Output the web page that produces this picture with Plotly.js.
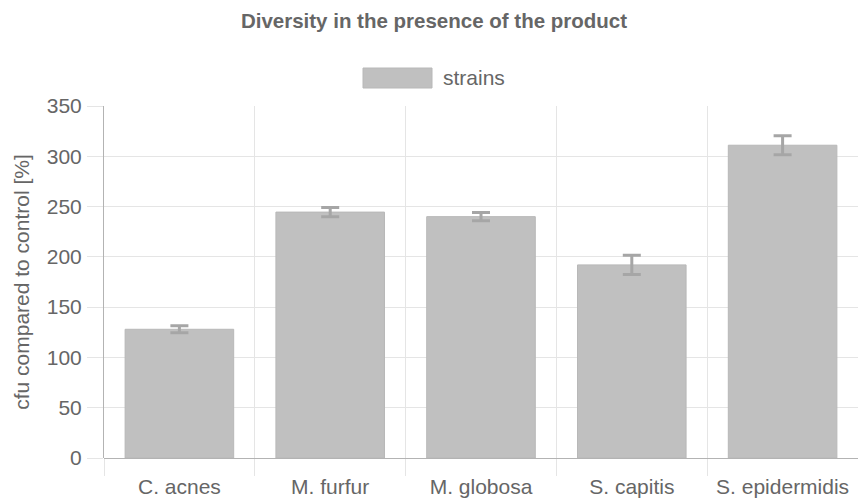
<!DOCTYPE html>
<html><head><meta charset="utf-8">
<script src="https://cdn.plot.ly/plotly-3.0.1.min.js"></script>
<style>html,body{margin:0;padding:0;background:#fff}#c{width:858px;height:500px}</style>
</head><body><div id="c"></div>
<script>
const categories = ["C. acnes", "M. furfur", "M. globosa", "S. capitis", "S. epidermidis"];
const values = [128, 244.5, 240, 192, 311];
const errors = [3.5, 4.5, 4, 9.5, 9.5];
const seriesName = "strains";
const yTicks = [0, 50, 100, 150, 200, 250, 300, 350];

const trace = {
  type: "bar", x: categories, y: values, name: seriesName,
  marker: {color: "#c0c0c0", line: {color: "#b8b8b8", width: 1}},
  error_y: {type: "data", array: errors, visible: true, color: "#a6a6a6", thickness: 3, width: 9},
  showlegend: false, hoverinfo: "none"
};
const fam = "Liberation Sans, Arial, sans-serif";
const layout = {
  width: 858, height: 500,
  margin: {l: 104, r: 0, t: 106, b: 42},
  paper_bgcolor: "#fff", plot_bgcolor: "#fff",
  font: {family: fam, color: "#666", size: 21},
  bargap: 0.28,
  title: {text: "<b>Diversity in the presence of the product</b>", x: 0.5 + 5/858, xanchor: "center", y: 0.958, yanchor: "middle", font: {family: fam, size: 20.5, color: "#666"}},
  xaxis: {
    type: "category", tickson: "boundaries", showgrid: true, gridcolor: "#e5e5e5", gridwidth: 1,
    ticks: "outside", ticklen: 17, tickcolor: "#e5e5e5", tickwidth: 1, ticklabelstandoff: 14,
    showline: false, zeroline: false, tickfont: {size: 21, color: "#666"}, fixedrange: true
  },
  yaxis: {
    range: [0, 350], tickvals: yTicks, ticktext: yTicks.map(String), showgrid: true, gridcolor: "#e5e5e5",
    ticks: "outside", ticklen: 16, tickcolor: "#e5e5e5", ticklabelstandoff: 1,
    showline: true, linecolor: "#b3b3b3", linewidth: 1,
    zeroline: true, zerolinecolor: "#b3b3b3", zerolinewidth: 1,
    tickfont: {size: 21, color: "#666"},
    title: {text: "cfu compared to control [%]", font: {size: 21, color: "#666"}, standoff: 11},
    fixedrange: true
  },
  shapes: [{type: "rect", xref: "paper", yref: "paper", x0: (363-104)/754, x1: (432-104)/754, y0: (500-42-88)/352, y1: (500-42-68)/352, fillcolor: "#c0c0c0", line: {color: "#b8b8b8", width: 1}}],
  annotations: [{text: seriesName, xref: "paper", yref: "paper", x: (441-104)/754, y: (500-42-78)/352, xanchor: "left", yanchor: "middle", showarrow: false, font: {size: 21, color: "#666"}}]
};
Plotly.newPlot("c", [trace], layout, {displayModeBar: false, staticPlot: true});
</script></body></html>
